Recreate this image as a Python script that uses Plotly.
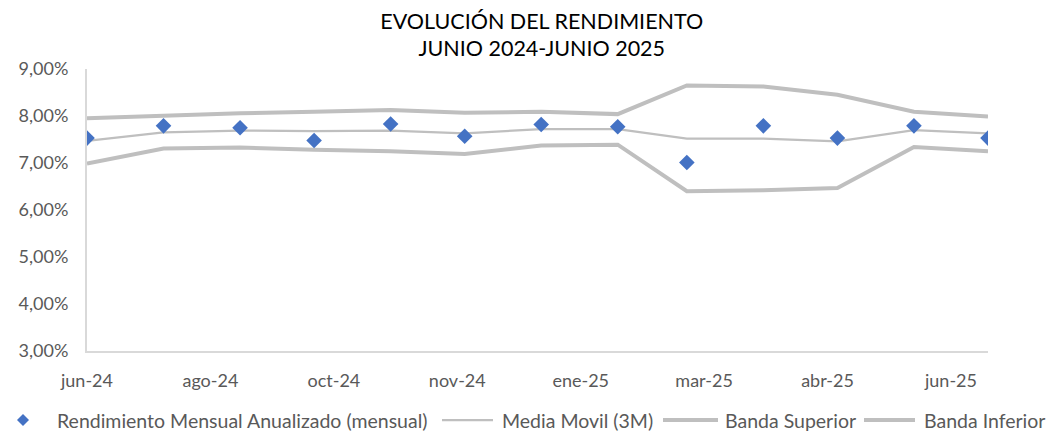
import plotly.graph_objects as go
import pandas as pd

fechas = ["2024-06-30", "2024-07-31", "2024-08-31", "2024-09-30", "2024-10-31",
          "2024-11-30", "2024-12-31", "2025-01-31", "2025-02-28", "2025-03-31",
          "2025-04-30", "2025-05-31", "2025-06-30"]
rendimiento = [7.53, 7.79, 7.75, 7.48, 7.83, 7.57, 7.82, 7.77, 7.01, 7.79, 7.53, 7.79, 7.53]
media_movil = [7.47, 7.65, 7.69, 7.68, 7.69, 7.63, 7.72, 7.72, 7.52, 7.52, 7.46, 7.70, 7.63]
banda_superior = [7.95, 8.01, 8.06, 8.09, 8.13, 8.07, 8.09, 8.04, 8.65, 8.63, 8.45, 8.09, 7.99]
banda_inferior = [6.99, 7.31, 7.33, 7.28, 7.25, 7.19, 7.37, 7.39, 6.40, 6.42, 6.47, 7.34, 7.25]

tick_labels = ["jun-24", "ago-24", "oct-24", "nov-24", "ene-25", "mar-25", "abr-25", "jun-25"]
tick_step_days = 50

series_names = ["Rendimiento Mensual Anualizado (mensual)", "Media Movil (3M)",
                "Banda Superior", "Banda Inferior"]


def frac(v):
    return [x / 100 for x in v]


start = pd.Timestamp(fechas[0])
tickvals = [start + pd.Timedelta(days=tick_step_days * k) for k in range(len(tick_labels))]

FONT = "Lato, 'Open Sans', sans-serif"
GRAY = "#BFBFBF"
TXT = "#595959"
BLUE = "#4472C4"

W, H = 1056, 432
ML, MR, MT, MB = 87, 68, 69, 81
PW, PH = W - ML - MR, H - MT - MB


def px_x(px):
    return (px - ML) / PW


def px_y(py):
    return (H - MB - py) / PH


fig = go.Figure()
fig.add_trace(go.Scatter(x=fechas, y=frac(media_movil), mode="lines", name=series_names[1],
                         line=dict(color=GRAY, width=2.25)))
fig.add_trace(go.Scatter(x=fechas, y=frac(banda_superior), mode="lines", name=series_names[2],
                         line=dict(color=GRAY, width=4)))
fig.add_trace(go.Scatter(x=fechas, y=frac(banda_inferior), mode="lines", name=series_names[3],
                         line=dict(color=GRAY, width=4)))
fig.add_trace(go.Scatter(x=fechas, y=frac(rendimiento), mode="markers", name=series_names[0],
                         marker=dict(symbol="diamond", color=BLUE, size=12)))

# Legend drawn manually (one row, as in the reference)
LEG_Y = 420
shapes = []
annotations = []
# diamond symbol
cx, r = 23, 6
path = "M {},{} L {},{} L {},{} L {},{} Z".format(
    px_x(cx), px_y(LEG_Y - r), px_x(cx + r), px_y(LEG_Y),
    px_x(cx), px_y(LEG_Y + r), px_x(cx - r), px_y(LEG_Y))
shapes.append(dict(type="path", xref="paper", yref="paper", path=path,
                   fillcolor=BLUE, line=dict(width=0)))
legend_items = [  # (line x0, line x1, line width, text x)
    (None, None, None, 55),
    (442, 493, 2.25, 500),
    (663, 718, 4, 723),
    (864, 915, 4, 922),
]
for name, (x0, x1, lw, tx) in zip(series_names, legend_items):
    if x0 is not None:
        shapes.append(dict(type="line", xref="paper", yref="paper",
                           x0=px_x(x0), x1=px_x(x1), y0=px_y(LEG_Y), y1=px_y(LEG_Y),
                           line=dict(color=GRAY, width=lw)))
    annotations.append(dict(text=name, xref="paper", yref="paper",
                            x=px_x(tx), y=px_y(LEG_Y), xanchor="left", yanchor="middle",
                            showarrow=False, font=dict(family=FONT, size=19.5, color=TXT)))

fig.update_layout(
    width=W, height=H,
    margin=dict(l=ML, r=MR, t=MT, b=MB, autoexpand=False),
    paper_bgcolor="white", plot_bgcolor="white",
    font=dict(family=FONT, size=18, color=TXT),
    title=dict(text="EVOLUCIÓN DEL RENDIMIENTO<br>JUNIO 2024-JUNIO 2025",
               xref="container", yref="container",
               x=0.513, xanchor="center", y=1 - 28.5 / 432, yanchor="middle",
               font=dict(family=FONT, size=21.5, color="#000000")),
    separators=",.",
    showlegend=False,
    shapes=shapes,
    annotations=annotations,
    xaxis=dict(range=[fechas[0], fechas[-1]], tickvals=tickvals, ticktext=tick_labels,
               showgrid=False, showline=True, linecolor="#D9D9D9", linewidth=2,
               ticks="", zeroline=False, ticklabelstandoff=12,
               tickfont=dict(size=18, color=TXT)),
    yaxis=dict(range=[0.03, 0.09], tickformat=".2%", dtick=0.01,
               showgrid=False, showline=True, linecolor="#D9D9D9", linewidth=2,
               ticks="", zeroline=False, ticklabelstandoff=13,
               tickfont=dict(size=18, color=TXT)),
)

fig.write_html("out.html", config={"displayModeBar": False},
               post_script="document.body.style.margin='0';document.body.style.overflow='hidden';")
